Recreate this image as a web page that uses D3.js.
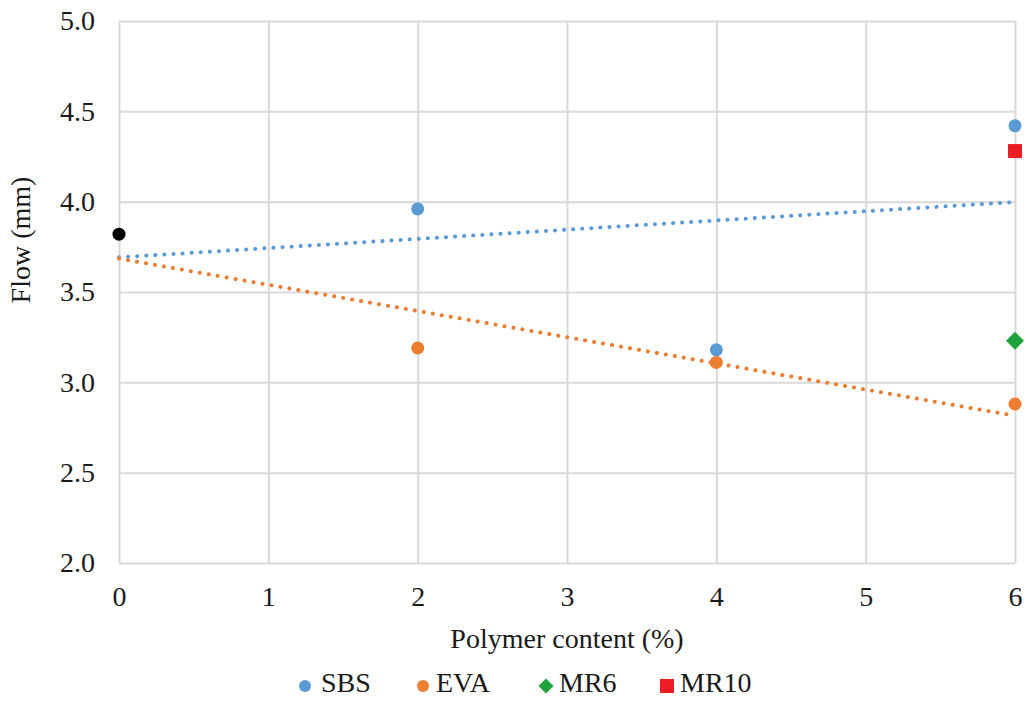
<!DOCTYPE html>
<html>
<head>
<meta charset="utf-8">
<script src="https://cdn.jsdelivr.net/npm/d3@7.9.0/dist/d3.min.js"></script>
<style>
  html, body { margin: 0; padding: 0; background: #fff; }
</style>
</head>
<body>
<svg id="chart" width="1033" height="701"></svg>
<script>
// polymer content (%) and flow (mm)
const controlPoint = { x: 0, y: 3.82 };
const sbsX = [2, 4, 6];
const sbsY = [3.96, 3.18, 4.42];
const evaX = [2, 4, 6];
const evaY = [3.19, 3.11, 2.88];
const mr6 = [{ x: 6, y: 3.23 }];
const mr10 = [{ x: 6, y: 4.28 }];

const xTicks = [0, 1, 2, 3, 4, 5, 6];
const yTicks = [2.0, 2.5, 3.0, 3.5, 4.0, 4.5, 5.0];
const legendItems = ['SBS', 'EVA', 'MR6', 'MR10'];

const colors = { SBS: '#5b9bd5', EVA: '#ed7d31', MR6: '#1fa33c', MR10: '#ee1c25' };
const FONT = 'Liberation Serif';
const FONT_SIZE = 28;

const width = 1033;
const height = 701;
const margin = { top: 21, right: 18, bottom: 138, left: 119 };
const usableArea = {
  top: margin.top,
  right: width - margin.right,
  bottom: height - margin.bottom,
  left: margin.left,
};

const svg = d3.select('#chart');

const xScale = d3.scaleLinear().domain([0, 6]).range([usableArea.left, usableArea.right]);
const yScale = d3.scaleLinear().domain([2, 5]).range([usableArea.bottom, usableArea.top]);

// gridlines
svg.append('g')
  .attr('class', 'gridlines')
  .attr('transform', `translate(${usableArea.left}, 0)`)
  .call(d3.axisLeft(yScale).tickValues(yTicks).tickFormat('').tickSize(-(usableArea.right - usableArea.left)))
  .call((g) => g.select('.domain').remove())
  .call((g) => g.selectAll('line').attr('stroke', '#d9d9d9').attr('stroke-width', 2));

svg.append('g')
  .attr('class', 'gridlines')
  .attr('transform', `translate(0, ${usableArea.bottom})`)
  .call(d3.axisBottom(xScale).tickValues(xTicks).tickFormat('').tickSize(-(usableArea.bottom - usableArea.top)))
  .call((g) => g.select('.domain').remove())
  .call((g) => g.selectAll('line').attr('stroke', '#d9d9d9').attr('stroke-width', 2));

// tick labels
svg.append('g')
  .attr('transform', `translate(0, ${usableArea.bottom})`)
  .call(d3.axisBottom(xScale).tickValues(xTicks).tickFormat(d3.format('d')).tickSize(0).tickPadding(23))
  .call((g) => g.select('.domain').remove())
  .attr('font-family', FONT)
  .attr('font-size', FONT_SIZE)
  .call((g) => g.selectAll('text').attr('fill', '#1a1a1a'));

svg.append('g')
  .attr('transform', `translate(${usableArea.left}, 0)`)
  .call(d3.axisLeft(yScale).tickValues(yTicks).tickFormat(d3.format('.1f')).tickSize(0).tickPadding(24))
  .call((g) => g.select('.domain').remove())
  .attr('font-family', FONT)
  .attr('font-size', FONT_SIZE)
  .call((g) => g.selectAll('text').attr('fill', '#1a1a1a'));

// axis titles
svg.append('text')
  .attr('x', 567)
  .attr('y', 648)
  .attr('text-anchor', 'middle')
  .attr('font-family', FONT)
  .attr('font-size', FONT_SIZE)
  .attr('fill', '#1a1a1a')
  .text('Polymer content (%)');

svg.append('text')
  .attr('transform', 'translate(30, 240) rotate(-90)')
  .attr('text-anchor', 'middle')
  .attr('font-family', FONT)
  .attr('font-size', FONT_SIZE)
  .attr('fill', '#1a1a1a')
  .text('Flow (mm)');

// linear trendlines (least squares, including the 0% control)
function trend(xs, ys) {
  const X = [controlPoint.x, ...xs];
  const Y = [controlPoint.y, ...ys];
  const mx = d3.mean(X);
  const my = d3.mean(Y);
  const slope = d3.sum(X, (x, i) => (x - mx) * (Y[i] - my)) / d3.sum(X, (x) => (x - mx) ** 2);
  const b = my - slope * mx;
  return [0, 6].map((x) => ({ x, y: b + slope * x }));
}

const line = d3.line().x((d) => xScale(d.x)).y((d) => yScale(d.y));

[['SBS', sbsX, sbsY], ['EVA', evaX, evaY]].forEach(([name, xs, ys]) => {
  svg.append('path')
    .datum(trend(xs, ys))
    .attr('d', line)
    .attr('fill', 'none')
    .attr('stroke', colors[name])
    .attr('stroke-width', 4)
    .attr('stroke-linecap', 'round')
    .attr('stroke-dasharray', '0.1 9');
});

// points
const dots = svg.append('g').attr('class', 'dots');

dots.append('circle')
  .attr('cx', xScale(controlPoint.x))
  .attr('cy', yScale(controlPoint.y))
  .attr('r', 6.5)
  .attr('fill', '#000');

const sbsPts = sbsX.map((x, i) => ({ x, y: sbsY[i] }));
const evaPts = evaX.map((x, i) => ({ x, y: evaY[i] }));

dots.selectAll('circle.sbs')
  .data(sbsPts)
  .join('circle')
  .attr('class', 'sbs')
  .attr('cx', (d) => xScale(d.x))
  .attr('cy', (d) => yScale(d.y))
  .attr('r', 6.5)
  .attr('fill', colors.SBS);

dots.selectAll('circle.eva')
  .data(evaPts)
  .join('circle')
  .attr('class', 'eva')
  .attr('cx', (d) => xScale(d.x))
  .attr('cy', (d) => yScale(d.y))
  .attr('r', 6.5)
  .attr('fill', colors.EVA);

// square diamond (rotated square)
const diamond = (s) => `M0,${-s}L${s},0L0,${s}L${-s},0Z`;

dots.selectAll('path.mr6')
  .data(mr6)
  .join('path')
  .attr('class', 'mr6')
  .attr('d', diamond(9))
  .attr('transform', (d) => `translate(${xScale(d.x)}, ${yScale(d.y)})`)
  .attr('fill', colors.MR6);

dots.selectAll('rect.mr10')
  .data(mr10)
  .join('rect')
  .attr('class', 'mr10')
  .attr('x', (d) => xScale(d.x) - 7)
  .attr('y', (d) => yScale(d.y) - 7)
  .attr('width', 14)
  .attr('height', 14)
  .attr('fill', colors.MR10);

// legend
const legendX = [305, 423, 546, 667];
const legend = svg.append('g').attr('class', 'legend');
legendItems.forEach((name, i) => {
  const g = legend.append('g').attr('transform', `translate(${legendX[i]}, 686)`);
  if (name === 'SBS' || name === 'EVA') {
    g.append('circle').attr('r', 6).attr('fill', colors[name]);
  } else if (name === 'MR6') {
    g.append('path').attr('d', diamond(7.5)).attr('fill', colors[name]);
  } else {
    g.append('rect').attr('x', -7).attr('y', -7).attr('width', 14).attr('height', 14).attr('fill', colors[name]);
  }
  g.append('text')
    .attr('x', name === 'SBS' ? 16 : 13)
    .attr('y', 6)
    .attr('font-family', FONT)
    .attr('font-size', FONT_SIZE)
    .attr('fill', '#1a1a1a')
    .text(name);
});
</script>
</body>
</html>
